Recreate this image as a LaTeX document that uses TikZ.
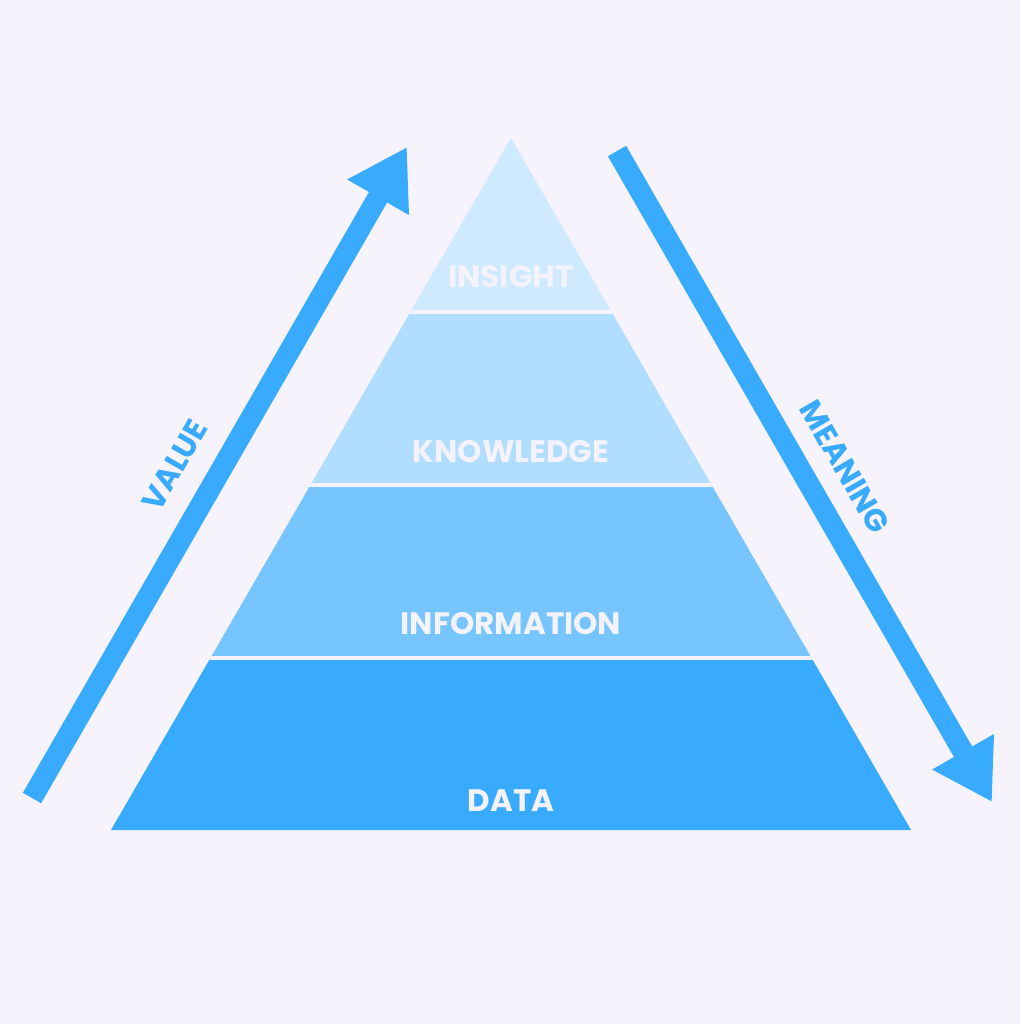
\documentclass[tikz,border=0pt]{standalone}
\usepackage{fontspec}
\setmainfont{Poppins}
\usetikzlibrary{arrows.meta}
\definecolor{bg}{HTML}{F6F3FD}
\definecolor{cinsight}{HTML}{CFE9FF}
\definecolor{cknow}{HTML}{B1DDFF}
\definecolor{cinfo}{HTML}{76C5FF}
\definecolor{cdata}{HTML}{38ABFF}
\definecolor{txt}{HTML}{F4F2FC}
\tikzset{
  lvl/.style={text=txt, font=\fontsize{31}{31}\selectfont\bfseries, inner sep=0pt},
  side/.style={text=cdata, font=\fontsize{31}{31}\selectfont\bfseries, inner sep=0pt},
  bigarrow/.style={draw=cdata, line width=21pt, -{Triangle[length=58pt,width=67pt]}},
  gap/.style={draw=bg, line width=4pt}
}
\begin{document}
\begin{tikzpicture}[x=1pt,y=-1pt]
\useasboundingbox (0,0) rectangle (1020,1024);
\fill[bg] (0,0) rectangle (1020,1024);
% pyramid
\coordinate (apex) at (511,138);
\coordinate (bl) at (111,830);
\coordinate (br) at (911,830);
\begin{scope}
  \clip (apex) -- (br) -- (bl) -- cycle;
  \fill[cinsight] (0,100) rectangle (1020,312);
  \fill[cknow] (0,312) rectangle (1020,485);
  \fill[cinfo] (0,485) rectangle (1020,658);
  \fill[cdata] (0,658) rectangle (1020,840);
  \draw[gap] (0,312) -- (1020,312);
  \draw[gap] (0,485) -- (1020,485);
  \draw[gap] (0,658) -- (1020,658);
\end{scope}
\node[lvl] (insight) at (511,277) {INSIGHT};
\node[lvl] (knowledge) at (511,452) {KNOWLEDGE};
\node[lvl] (information) at (511,624) {INFORMATION};
\node[lvl] (data) at (511,801) {DATA};
% arrows
\coordinate (vs) at (32,798);
\coordinate (vt) at (407,147);
\coordinate (ms) at (617,151);
\coordinate (mt) at (992,802);
\draw[bigarrow] (vs) -- (vt);
\draw[bigarrow] (ms) -- (mt);
\node[side, rotate=60] (value) at (175,465) {VALUE};
\node[side, rotate=-60] (meaning) at (845,467) {MEANING};
\end{tikzpicture}
\end{document}
